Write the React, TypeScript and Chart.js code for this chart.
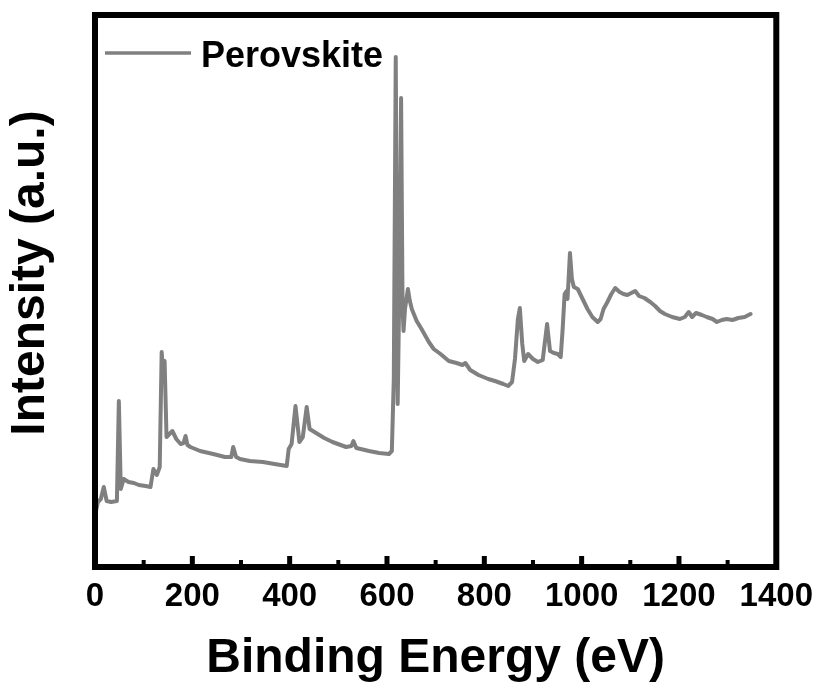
import React, { useEffect, useRef } from "react";
import { Chart, registerables } from "chart.js";

Chart.register(...registerables);

const seriesLabel = "Perovskite";
const xTitle = "Binding Energy (eV)";
const yTitle = "Intensity (a.u.)";
const xTickValues = [0, 200, 400, 600, 800, 1000, 1200, 1400];

const energy = [
  2, 6, 12, 18, 24, 33, 45, 49, 53, 59, 69, 80, 90, 104, 114, 120, 127, 133, 137, 140,
  143, 147, 155, 159, 167, 176, 182, 186, 190, 196, 216, 243, 267, 280, 284, 290, 298, 318, 345, 369,
  394, 398, 404, 412, 416, 420, 427, 435, 441, 451, 471, 488, 516, 527, 531, 537, 563, 584, 604, 610,
  614, 618, 622, 626, 629, 632, 634, 637, 643, 647, 651, 661, 671, 686, 696, 710, 727, 743, 755, 761,
  771, 788, 808, 822, 839, 849, 857, 863, 869, 873, 878, 882, 890, 900, 910, 920, 929, 935, 943, 951,
  957, 961, 965, 969, 971, 976, 980, 984, 992, 1002, 1012, 1022, 1033, 1039, 1045, 1053, 1061, 1069, 1078, 1086,
  1094, 1102, 1110, 1118, 1129, 1141, 1151, 1161, 1171, 1186, 1202, 1212, 1220, 1227, 1235, 1247, 1257, 1269, 1278, 1288,
  1298, 1310, 1322, 1335, 1347,
];

const intensity = [
  56, 65, 68, 80, 66, 65, 66, 166, 78, 88, 85, 84, 82, 81, 80, 98, 92, 100, 215, 195,
  206, 130, 134, 136, 128, 123, 124, 131, 122, 120, 116, 113, 110, 110, 120, 110, 108, 106, 105, 103,
  101, 118, 123, 161, 143, 125, 130, 160, 138, 135, 129, 125, 120, 121, 126, 119, 116, 114, 113, 116,
  188, 510, 163, 300, 469, 260, 236, 258, 278, 266, 258, 246, 238, 225, 218, 213, 206, 204, 202, 204,
  197, 192, 188, 186, 183, 181, 185, 208, 248, 259, 223, 206, 213, 208, 205, 207, 243, 216, 214, 213,
  210, 238, 273, 276, 268, 314, 288, 280, 278, 268, 258, 250, 245, 248, 258, 265, 273, 279, 275, 273,
  272, 274, 276, 271, 269, 265, 261, 256, 253, 250, 248, 250, 255, 250, 254, 252, 250, 248, 245, 247,
  248, 247, 249, 250, 253,
];

const FONT = '"Liberation Sans", Arial, Helvetica, sans-serif';
const LINE_COLOR = "#808080";

const framePlugin = {
  id: "frameAndExtras",
  afterDatasetsDraw(chart: any) {
    const { ctx, chartArea } = chart;
    const xs = chart.scales.x;
    const { left, right, top, bottom } = chartArea;
    ctx.save();
    ctx.strokeStyle = "#000";
    ctx.lineWidth = 6;
    ctx.strokeRect(left, top, right - left, bottom - top);
    ctx.fillStyle = "#000";
    for (let v = 100; v < 1400; v += 100) {
      const px = xs.getPixelForValue(v);
      const major = v % 200 === 0;
      const w = major ? 5 : 4;
      const len = major ? 8 : 4;
      ctx.fillRect(px - w / 2, bottom - 3 - len, w, len);
    }
    ctx.strokeStyle = LINE_COLOR;
    ctx.lineWidth = 3.5;
    ctx.beginPath();
    ctx.moveTo(105, 53);
    ctx.lineTo(191, 53);
    ctx.stroke();
    ctx.fillStyle = "#000";
    ctx.font = `bold 36px ${FONT}`;
    ctx.textAlign = "left";
    ctx.textBaseline = "alphabetic";
    ctx.fillText(seriesLabel, 201, 67);
    ctx.translate(31, 273);
    ctx.rotate(-Math.PI / 2);
    ctx.font = `bold 48px ${FONT}`;
    ctx.textAlign = "center";
    ctx.textBaseline = "middle";
    ctx.fillText(yTitle, 0, 0);
    ctx.restore();
  },
};

export default function App() {
  const ref = useRef<HTMLCanvasElement | null>(null);
  useEffect(() => {
    if (!ref.current) return;
    const points = energy.map((e, i) => ({ x: e, y: intensity[i] }));
    const chart = new Chart(ref.current, {
      type: "line",
      data: {
        datasets: [
          {
            label: seriesLabel,
            data: points,
            borderColor: LINE_COLOR,
            backgroundColor: LINE_COLOR,
            borderWidth: 4,
            pointRadius: 0,
            tension: 0,
            borderJoinStyle: "round",
            borderCapStyle: "round",
          },
        ],
      },
      options: {
        responsive: false,
        animation: false,
        devicePixelRatio: 1,
        layout: { padding: { left: 95, right: 43, top: 15, bottom: 0 } },
        plugins: { legend: { display: false }, tooltip: { enabled: false } },
        scales: {
          x: {
            type: "linear",
            min: 0,
            max: 1400,
            afterBuildTicks: (scale: any) => {
              scale.ticks = xTickValues.map((v) => ({ value: v }));
            },
            afterFit: (scale: any) => {
              scale.height = 124;
            },
            grid: { display: false, drawTicks: false },
            border: { display: false },
            ticks: {
              padding: 10,
              color: "#000",
              font: { family: FONT, size: 33, weight: "bold" },
              maxRotation: 0,
              autoSkip: false,
              callback: (v: any) => String(v),
            },
            title: {
              display: true,
              text: xTitle,
              color: "#000",
              font: { family: FONT, size: 48, weight: "bold" },
              padding: { top: 0, bottom: 3 },
            },
          },
          y: {
            display: false,
            min: 0,
            max: 552,
          },
        },
      },
      plugins: [framePlugin],
    });
    return () => chart.destroy();
  }, []);
  return (
    <div style={{ position: "fixed", left: 0, top: 0, width: 823, height: 691, background: "#fff" }}>
      <canvas ref={ref} width={823} height={691} style={{ display: "block" }} />
    </div>
  );
}
